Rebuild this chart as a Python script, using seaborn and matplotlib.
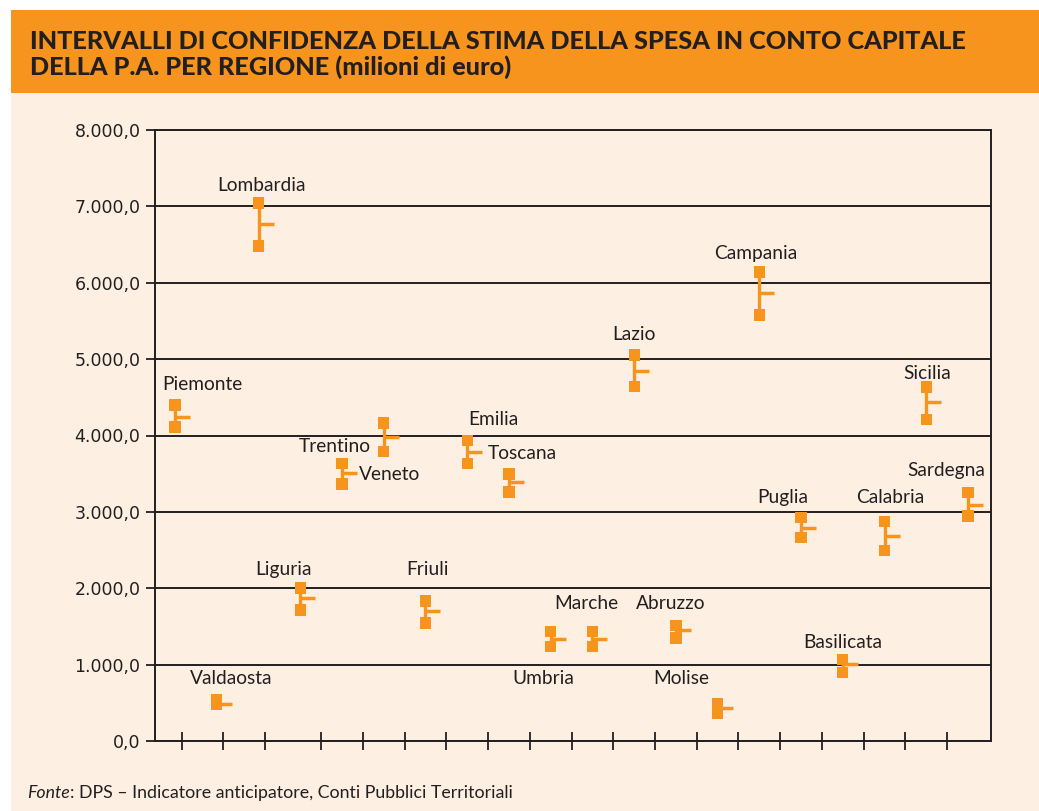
import numpy as np
import pandas as pd
import matplotlib
matplotlib.use("Agg")
import matplotlib.pyplot as plt
import seaborn as sns
from matplotlib.patches import Rectangle
from matplotlib.ticker import FuncFormatter

# ---------------- data (milioni di euro) ----------------
regions = ["Piemonte", "Valdaosta", "Lombardia", "Liguria", "Trentino", "Veneto",
           "Friuli", "Emilia", "Toscana", "Umbria", "Marche", "Lazio", "Abruzzo",
           "Molise", "Campania", "Puglia", "Basilicata", "Calabria", "Sicilia", "Sardegna"]
high = [4398, 535, 7043, 2003, 3630, 4163, 1833, 3934, 3495, 1436, 1436, 5053, 1515,
        490, 6139, 2924, 1064, 2877, 4634, 3254]
low = [4110, 480, 6480, 1715, 3364, 3787, 1545, 3633, 3259, 1240, 1240, 4638, 1349,
       367, 5576, 2668, 899, 2494, 4208, 2946]
stima = [4245, 485, 6775, 1876, 3504, 3983, 1702, 3787, 3394, 1335, 1335, 4847, 1453,
         428, 5860, 2785, 1004, 2688, 4434, 3090]
y_ticks = [0, 1000, 2000, 3000, 4000, 5000, 6000, 7000, 8000]

title_1 = "INTERVALLI DI CONFIDENZA DELLA STIMA DELLA SPESA IN CONTO CAPITALE"
title_2 = "DELLA P.A. PER REGIONE (milioni di euro)"
source_a = "Fonte"
source_b = ": DPS \u2013 Indicatore anticipatore, Conti Pubblici Territoriali"

# ---------------- layout (label anchors, x tick marks) ----------------
label_pos = {
    "Piemonte": (0.65, 4596), "Valdaosta": (1.34, 746), "Lombardia": (2.08, 7205),
    "Liguria": (2.59, 2173), "Trentino": (3.83, 3788), "Veneto": (5.15, 3417),
    "Friuli": (6.04, 2173), "Emilia": (7.62, 4137), "Toscana": (8.31, 3688),
    "Umbria": (8.83, 746), "Marche": (9.86, 1724), "Lazio": (10.99, 5250),
    "Abruzzo": (11.88, 1724), "Molise": (12.14, 746), "Campania": (13.92, 6307),
    "Puglia": (14.56, 3112), "Basilicata": (16.0, 1222), "Calabria": (17.14, 3112),
    "Sicilia": (18.02, 4740), "Sardegna": (18.47, 3470),
}
x_tick_marks = [0.16, 1.16, 2.16] + [i + 0.5 for i in range(3, 19)]

ORANGE = "#F7941D"
CREAM = "#FDF0E2"
DARK = "#231F20"

sns.set_theme(style="white")
plt.rcParams["font.family"] = ["Lato", "DejaVu Sans"]

W, H = 1039, 811
fig = plt.figure(figsize=(W / 100, H / 100), dpi=100, facecolor="white")


def fx(px):
    return px / W


def fy(py):
    return 1 - py / H


# background panels
fig.patches.append(Rectangle((fx(11), 0), 1 - fx(11), fy(93), transform=fig.transFigure,
                             facecolor=CREAM, edgecolor="none", zorder=-10))
fig.patches.append(Rectangle((fx(11), fy(93)), 1 - fx(11), fy(10) - fy(93),
                             transform=fig.transFigure, facecolor=ORANGE,
                             edgecolor="none", zorder=-10))

ax = fig.add_axes([fx(155), fy(741), fx(991) - fx(155), fy(130) - fy(741)])
ax.set_facecolor(CREAM)

df = pd.DataFrame({"regione": regions, "pos": np.arange(len(regions)),
                   "max": high, "min": low, "stima": stima})
long = df.melt(id_vars=["regione", "pos"], value_vars=["max", "min"],
               var_name="estremo", value_name="valore")

ax.vlines(df["pos"], df["min"], df["max"], color=ORANGE, lw=2.4, zorder=3)
ax.hlines(df["stima"], df["pos"], df["pos"] + 0.36, color=ORANGE, lw=2.5, zorder=3)
sns.scatterplot(data=long, x="pos", y="valore", marker="s", s=66, color=ORANGE,
                edgecolor="none", linewidth=0, ax=ax, zorder=4, legend=False)

ax.set_xlim(-0.48, 19.55)
ax.set_ylim(0, 8000)
ax.set_yticks(y_ticks)
ax.yaxis.set_major_formatter(FuncFormatter(
    lambda v, _: f"{v:,.1f}".replace(",", "X").replace(".", ",").replace("X", ".")))
ax.set_xticks(x_tick_marks)
ax.set_xticklabels([])
ax.grid(axis="y", color=DARK, lw=1.4)
ax.grid(axis="x", visible=False)
ax.set_axisbelow(True)
ax.tick_params(axis="x", direction="inout", length=13, width=1.3, color=DARK, bottom=True)
ax.tick_params(axis="y", direction="out", length=6.5, width=1.3, color=DARK, left=True,
               labelsize=12.5, labelcolor=DARK, pad=4, labelfontfamily="DejaVu Sans")
for sp in ax.spines.values():
    sp.set_visible(True)
    sp.set_color(DARK)
    sp.set_linewidth(1.4)
ax.set_xlabel("")
ax.set_ylabel("")

for name in regions:
    lx, ly = label_pos[name]
    ax.text(lx, ly, name, ha="center", va="baseline", fontsize=13.8, color=DARK)

# title, fitted to the reference width
t1 = fig.text(fx(30), fy(49), title_1, fontsize=16, fontweight="black", color=DARK,
              ha="left", va="baseline")
t2 = fig.text(fx(30), fy(75), title_2, fontsize=16, fontweight="black", color=DARK,
              ha="left", va="baseline")
fig.canvas.draw()
r = fig.canvas.get_renderer()
scale = 938 / t1.get_window_extent(r).width
t1.set_fontsize(16 * scale)
t2.set_fontsize(16 * scale)

# source line
s1 = fig.text(fx(27), fy(798), source_a, fontsize=12, style="italic", color=DARK,
              ha="left", va="baseline")
s2 = fig.text(fx(60), fy(798), source_b, fontsize=12, color=DARK, ha="left", va="baseline")
fig.canvas.draw()
wtot = s1.get_window_extent(r).width + s2.get_window_extent(r).width
sc = 484 / wtot
s1.set_fontsize(12 * sc)
s2.set_fontsize(12 * sc)
fig.canvas.draw()
s2.set_x(fx(27 + s1.get_window_extent(r).width))

fig.savefig("out.png", dpi=100, facecolor="white")
